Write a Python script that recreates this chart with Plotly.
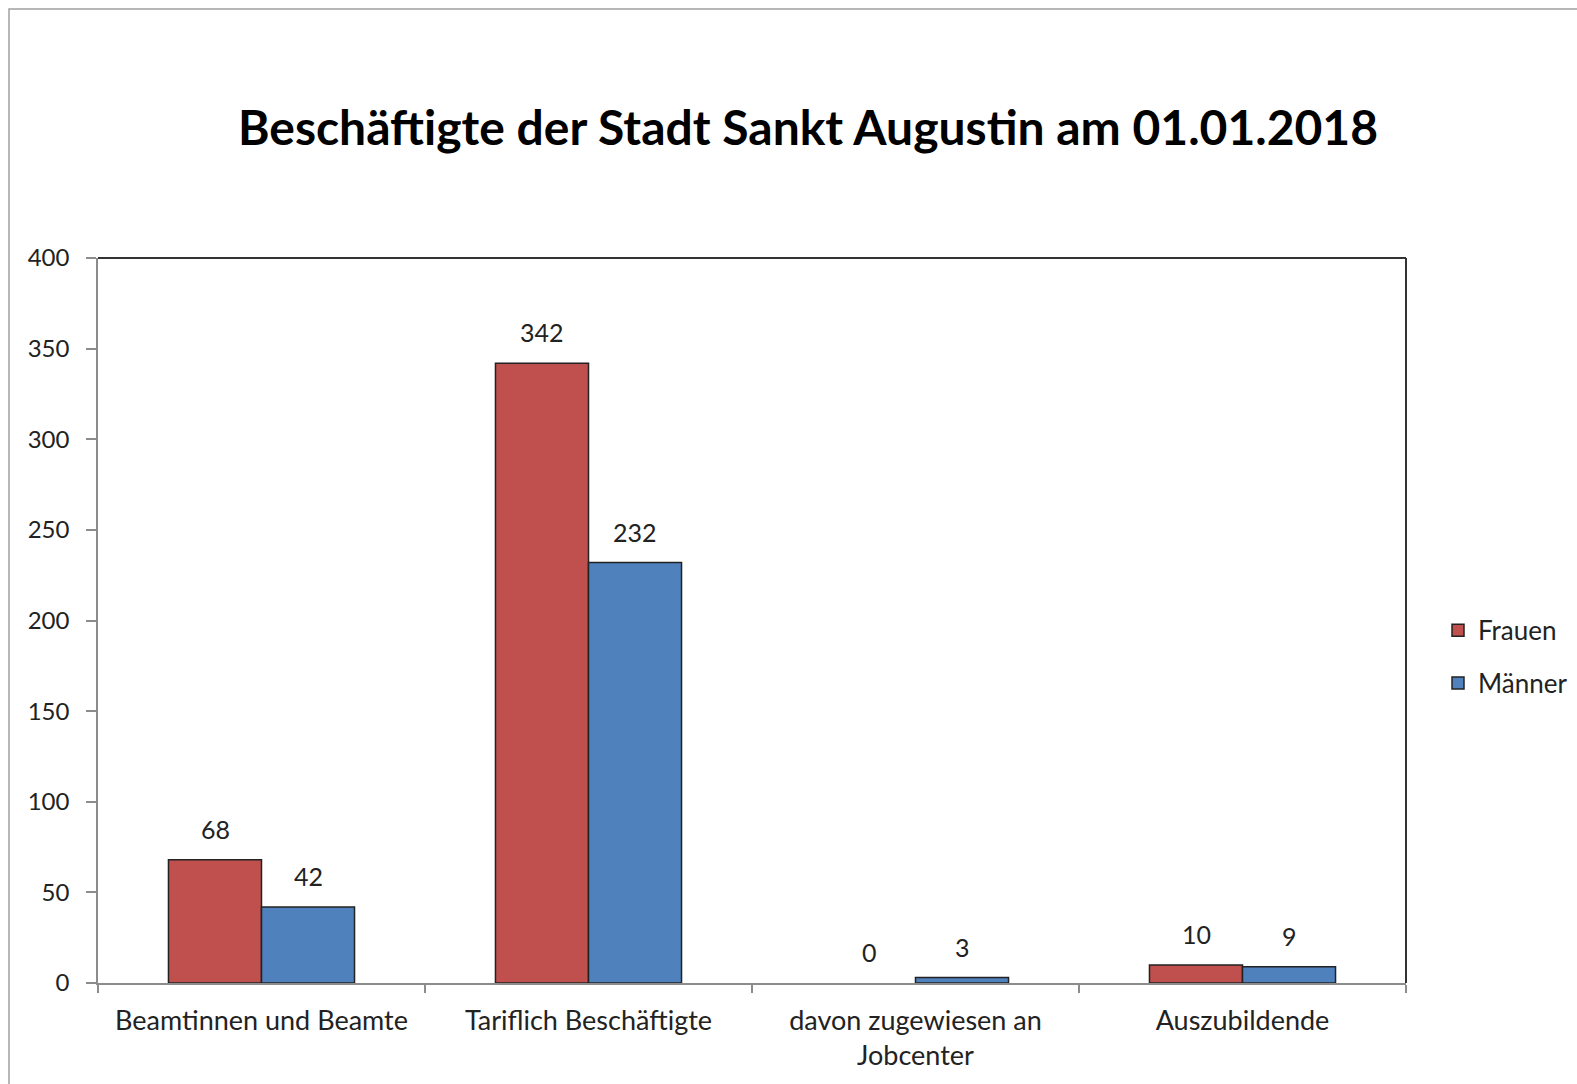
import plotly.graph_objects as go

categories = ["Beamtinnen und Beamte", "Tariflich Beschäftigte", "davon zugewiesen an<br>Jobcenter", "Auszubildende"]
frauen = [68, 342, 0, 10]
maenner = [42, 232, 3, 9]
y_ticks = [0, 50, 100, 150, 200, 250, 300, 350, 400]

FONT = "Lato"
RED = "#C0504D"
BLUE = "#4F81BD"


def outline_widths(values):
    return [0 if v == 0 else 1.5 for v in values]


fig = go.Figure()
fig.add_trace(go.Bar(name="Frauen", x=categories, y=frauen,
                     marker=dict(color=RED, line=dict(color="#222222", width=outline_widths(frauen))), legendgroup="f"))
fig.add_trace(go.Bar(name="Männer", x=categories, y=maenner,
                     marker=dict(color=BLUE, line=dict(color="#222222", width=outline_widths(maenner))), legendgroup="m"))

annotations = []
for c, v in zip(categories, frauen):
    annotations.append(dict(x=c, y=v, xref="x", yref="y", text=str(v), showarrow=False, xshift=-46.5, yshift=31,
                            font=dict(family=FONT, size=25, color="#222222")))
for c, v in zip(categories, maenner):
    annotations.append(dict(x=c, y=v, xref="x", yref="y", text=str(v), showarrow=False, xshift=46.5, yshift=31,
                            font=dict(family=FONT, size=25, color="#222222")))

shapes = [
    dict(type="line", xref="paper", yref="paper", x0=0, x1=1, y0=1, y1=1, line=dict(color="#333333", width=2)),
    dict(type="line", xref="paper", yref="paper", x0=1, x1=1, y0=0, y1=1, line=dict(color="#333333", width=2)),
    dict(type="rect", xref="paper", yref="paper", x0=(9 - 98) / 1308, x1=1.2, y0=(983 - 1100) / 725, y1=(983 - 9) / 725,
         line=dict(color="#A0A0A0", width=1.5), fillcolor="rgba(0,0,0,0)"),
]

fig.update_layout(
    width=1577, height=1084,
    margin=dict(l=98, r=171, t=258, b=101, autoexpand=False),
    paper_bgcolor="white", plot_bgcolor="white",
    barmode="group", bargap=0.431, bargroupgap=0,
    title=dict(text="<b>Beschäftigte der Stadt Sankt Augustin am 01.01.2018</b>", x=808 / 1577, xanchor="center",
               y=1 - 128 / 1084, yanchor="middle", font=dict(family=FONT, size=48, color="black")),
    font=dict(family=FONT, size=24, color="#222222"),
    legend=dict(x=(1438 - 98) / 1308, xanchor="left", y=0.45, yanchor="middle",
                font=dict(family=FONT, size=26, color="#222222"),
                traceorder="grouped", tracegroupgap=16, bgcolor="rgba(0,0,0,0)"),
    annotations=annotations,
    shapes=shapes,
)
fig.update_xaxes(showline=True, linecolor="#8C8C8C", linewidth=1.5, ticks="outside", tickson="boundaries", ticklen=8,
                 tickcolor="#8C8C8C", tickwidth=1.5, showgrid=False, tickfont=dict(family=FONT, size=27, color="#222222"),
                 ticklabelstandoff=13)
fig.update_yaxes(range=[0, 400], tickvals=y_ticks, showline=True, linecolor="#8C8C8C", linewidth=1.5, ticks="outside",
                 ticklen=10, tickcolor="#8C8C8C", tickwidth=1.5, showgrid=False, zeroline=False,
                 tickfont=dict(family=FONT, size=24, color="#222222"), ticklabelstandoff=12)

fig.write_html("out.html", config={"displayModeBar": False}, post_script="document.body.style.margin='0';")
